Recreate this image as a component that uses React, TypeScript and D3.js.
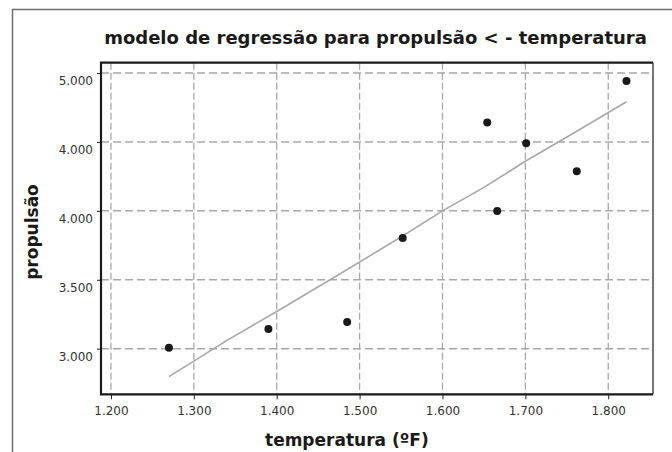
import React, { useEffect, useRef } from 'react';
import * as d3 from 'd3';

// dados
const temperatura = [1270, 1390, 1485, 1552, 1654, 1666, 1701, 1762, 1822];
const propulsao = [3007, 3143, 3194, 3803, 4642, 3999, 4490, 4287, 4942];

// linha de regressão
const ajusteTemp = [1270, 1340, 1400, 1470, 1550, 1600, 1650, 1700, 1760, 1822];
const ajustePropulsao = [2797, 3060, 3270, 3520, 3810, 4000, 4170, 4360, 4570, 4792];

const xTicks = [1200, 1300, 1400, 1500, 1600, 1700, 1800];
const xTickLabels = ['1.200', '1.300', '1.400', '1.500', '1.600', '1.700', '1.800'];
const yTicks = [3000, 3500, 4000, 4500, 5000];
const yTickLabels = ['3.000', '3.500', '4.000', '4.000', '5.000'];

const titulo = 'modelo de regressão para propulsão < - temperatura';
const xTitulo = 'temperatura (ºF)';
const yTitulo = 'propulsão';

function App() {
  const ref = useRef<SVGSVGElement>(null);

  useEffect(() => {
    const width = 672, height = 452;
    const plot = { left: 101, right: 653, top: 62.7, bottom: 394.3 };
    const font = '"DejaVu Sans", Verdana, sans-serif';

    const svg = d3.select(ref.current);
    svg.selectAll('*').remove();

    svg.append('rect')
      .attr('width', width).attr('height', height)
      .attr('fill', 'white');

    // moldura externa
    svg.append('path')
      .attr('d', `M12.5,${height} L12.5,9.5 L${width},9.5`)
      .attr('fill', 'none')
      .attr('stroke', '#6e6e6e')
      .attr('stroke-width', 1.5);

    const xScale = d3.scaleLinear()
      .domain([1188, 1854])
      .range([plot.left, plot.right]);

    const yScale = d3.scaleLinear()
      .domain([2669, 5075])
      .range([plot.bottom, plot.top]);

    // grade
    svg.append('g')
      .selectAll('line')
      .data(xTicks)
      .enter()
      .append('line')
        .attr('x1', d => xScale(d)).attr('x2', d => xScale(d))
        .attr('y1', plot.top).attr('y2', plot.bottom)
        .attr('stroke', '#a8a8a8')
        .attr('stroke-width', 1.3)
        .attr('stroke-dasharray', '7,3');

    svg.append('g')
      .selectAll('line')
      .data(yTicks)
      .enter()
      .append('line')
        .attr('x1', plot.left).attr('x2', plot.right)
        .attr('y1', d => yScale(d)).attr('y2', d => yScale(d))
        .attr('stroke', '#a8a8a8')
        .attr('stroke-width', 1.5)
        .attr('stroke-dasharray', '8,4');

    // eixos
    const xAxis = d3.axisBottom(xScale)
      .tickValues(xTicks)
      .tickSize(5)
      .tickSizeOuter(0)
      .tickFormat((d, i) => xTickLabels[i]);

    const yAxis = d3.axisLeft(yScale)
      .tickValues(yTicks)
      .tickSize(4)
      .tickSizeOuter(0)
      .tickFormat((d, i) => yTickLabels[i]);

    const gx = svg.append('g')
      .attr('transform', `translate(0, ${plot.bottom})`)
      .call(xAxis);
    gx.select('.domain').remove();
    gx.selectAll('line').attr('stroke', '#222');
    gx.selectAll('text')
      .attr('y', 12)
      .attr('dy', '0.71em')
      .style('font-family', font)
      .style('font-size', '12px')
      .attr('fill', '#333');

    const gy = svg.append('g')
      .attr('transform', `translate(${plot.left}, 0)`)
      .call(yAxis);
    gy.select('.domain').remove();
    gy.selectAll('line').attr('stroke', '#222');
    gy.selectAll('text')
      .attr('x', -8)
      .attr('dy', '0.95em')
      .style('font-family', font)
      .style('font-size', '12px')
      .attr('fill', '#333');

    // moldura da área de plotagem
    svg.append('path')
      .attr('d', `M${plot.right},${plot.top} L${plot.left},${plot.top} L${plot.left},${plot.bottom} L${plot.right},${plot.bottom}`)
      .attr('fill', 'none')
      .attr('stroke', '#1a1a1a')
      .attr('stroke-width', 2.2);
    svg.append('line')
      .attr('x1', plot.right).attr('x2', plot.right)
      .attr('y1', plot.top).attr('y2', plot.bottom)
      .attr('stroke', '#1a1a1a')
      .attr('stroke-width', 1.2);

    // linha de regressão
    const linha = d3.line<number>()
      .x(d => xScale(d))
      .y((d, i) => yScale(ajustePropulsao[i]));

    svg.append('path')
      .datum(ajusteTemp)
      .attr('d', linha)
      .attr('fill', 'none')
      .attr('stroke', '#a8a8a8')
      .attr('stroke-width', 1.6);

    // pontos
    svg.append('g')
      .selectAll('circle')
      .data(temperatura)
      .enter()
      .append('circle')
        .attr('cx', d => xScale(d))
        .attr('cy', (d, i) => yScale(propulsao[i]))
        .attr('r', 4)
        .attr('fill', '#1a1a1a');

    // títulos
    svg.append('text')
      .attr('x', 375.5)
      .attr('y', 44)
      .style('text-anchor', 'middle')
      .style('font-family', font)
      .style('font-weight', 'bold')
      .style('font-size', '18px')
      .attr('fill', '#1a1a1a')
      .text(titulo);

    svg.append('text')
      .attr('x', 265)
      .attr('y', 446)
      .style('text-anchor', 'start')
      .style('font-family', font)
      .style('font-weight', 'bold')
      .style('font-size', '17px')
      .attr('fill', '#1a1a1a')
      .text(xTitulo);

    svg.append('text')
      .attr('transform', `translate(38, 232) rotate(-90)`)
      .style('text-anchor', 'middle')
      .style('font-family', font)
      .style('font-weight', 'bold')
      .style('font-size', '17px')
      .attr('fill', '#1a1a1a')
      .text(yTitulo);
  }, []);

  return (
    <svg
      ref={ref}
      width={672}
      height={452}
      style={{ position: 'absolute', left: 0, top: 0 }}
    />
  );
}

export default App;
